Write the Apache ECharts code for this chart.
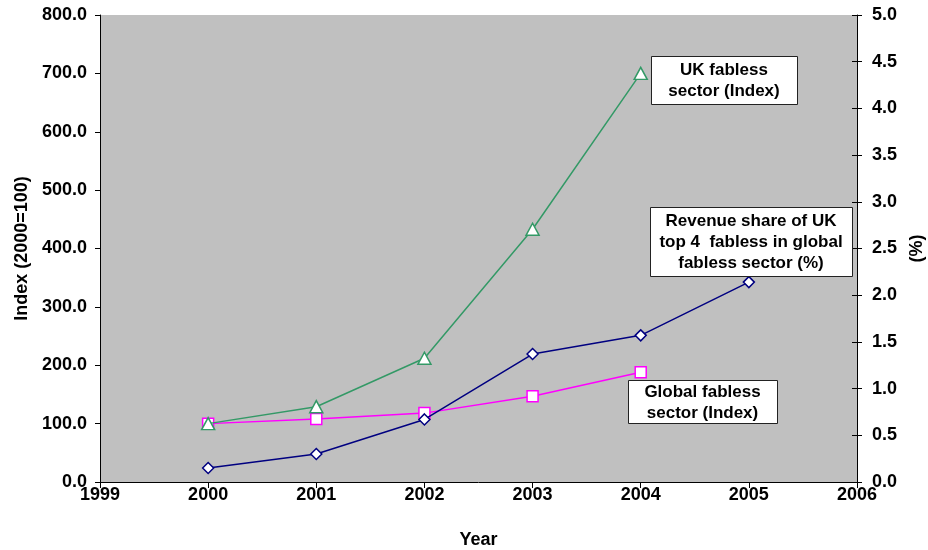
<!DOCTYPE html>
<html>
<head>
<meta charset="utf-8">
<script src="https://cdn.jsdelivr.net/npm/echarts@6/dist/echarts.min.js"></script>
<style>
html,body{margin:0;padding:0;background:#fff;}
#chart{width:928px;height:550px;}
</style>
</head>
<body>
<div id="chart"></div>
<script>
var years = [2000, 2001, 2002, 2003, 2004, 2005];
var ukIndex = [100, 129, 212, 433, 700];
var globalIndex = [100, 108, 118, 147, 188];
var ukShare = [0.15, 0.30, 0.67, 1.37, 1.57, 2.14];
var labelUK = ['UK fabless', 'sector (Index)'];
var labelShare = ['Revenue share of UK', 'top 4  fabless in global', 'fabless sector (%)'];
var labelGlobal = ['Global fabless', 'sector (Index)'];

function pairs(vals){ return vals.map(function(v,i){ return [years[i], v]; }); }

var FONT = "'Liberation Sans', Arial, sans-serif";
var FS = 18;
var txt = {color:'#000', fontWeight:'bold', fontSize:FS, fontFamily:FONT};

var chart = echarts.init(document.getElementById('chart'));

function box(x, y, w, h, lines){
  return [
    {type:'rect', shape:{x:x+0.5, y:y+0.5, width:w, height:h}, style:{fill:'#fff', stroke:'#222', lineWidth:1}, z:100},
    {type:'text', x:x + w/2, y:y + h/2 + 1, z:101, style:{text:lines.join('\n'), textAlign:'center', textVerticalAlign:'middle', font:'bold 17px ' + FONT, fill:'#000', lineHeight:21}}
  ];
}

chart.setOption({
  animation:false,
  backgroundColor:'#fff',
  grid:{left:100, right:71, top:15, bottom:68, show:true, backgroundColor:'#C0C0C0', borderWidth:0, containLabel:false, outerBoundsMode:'none'},
  xAxis:{
    type:'value', min:1999, max:2006, interval:1,
    axisLine:{show:true, lineStyle:{color:'#000', width:1}},
    axisTick:{show:true, length:6, lineStyle:{color:'#000'}},
    axisLabel:Object.assign({margin:4, formatter:function(v){return String(v);}}, txt),
    splitLine:{show:false},
    name:'Year', nameLocation:'middle', nameGap:49,
    nameTextStyle:txt
  },
  yAxis:[
    {
      type:'value', position:'left', min:0, max:800, interval:100,
      axisLine:{show:true, lineStyle:{color:'#000'}},
      axisTick:{show:true, length:5, lineStyle:{color:'#000'}},
      axisLabel:Object.assign({margin:13, formatter:function(v){return v.toFixed(1);}}, txt),
      splitLine:{show:false},
      name:'Index (2000=100)', nameLocation:'middle', nameGap:67, nameRotate:90,
      nameTextStyle:txt
    },
    {
      type:'value', position:'right', min:0, max:5, interval:0.5,
      axisLine:{show:true, lineStyle:{color:'#000'}},
      axisTick:{show:true, length:5, lineStyle:{color:'#000'}},
      axisLabel:Object.assign({margin:15, formatter:function(v){return v.toFixed(1);}}, txt),
      splitLine:{show:false},
      name:'(%)', nameLocation:'middle', nameGap:49, nameRotate:90,
      nameTextStyle:txt
    },
    {
      type:'value', position:'right', min:0, max:5, interval:0.5,
      axisLine:{show:false},
      axisTick:{show:true, inside:true, length:5, lineStyle:{color:'#000'}},
      axisLabel:{show:false},
      splitLine:{show:false}
    }
  ],
  series:[
    {
      type:'line', name:'UK fabless sector (Index)', yAxisIndex:0,
      data:pairs(ukIndex),
      symbol:'triangle', symbolSize:[13,12],
      lineStyle:{color:'#339966', width:1.5},
      itemStyle:{color:'#fff', borderColor:'#339966', borderWidth:1.5},
      z:3
    },
    {
      type:'line', name:'Global fabless sector (Index)', yAxisIndex:0,
      data:pairs(globalIndex),
      symbol:'rect', symbolSize:11,
      lineStyle:{color:'#FF00FF', width:1.5},
      itemStyle:{color:'#fff', borderColor:'#FF00FF', borderWidth:1.5},
      z:2
    },
    {
      type:'line', name:'Revenue share of UK top 4 fabless in global fabless sector (%)', yAxisIndex:1,
      data:pairs(ukShare),
      symbol:'diamond', symbolSize:[11,11],
      lineStyle:{color:'#000080', width:1.5},
      itemStyle:{color:'#fff', borderColor:'#000080', borderWidth:1.5},
      z:4
    }
  ],
  graphic:[].concat(
    box(651, 56, 146, 48, labelUK),
    box(650, 207, 202, 69, labelShare),
    box(628, 380, 149, 43, labelGlobal)
  )
});
</script>
</body>
</html>
